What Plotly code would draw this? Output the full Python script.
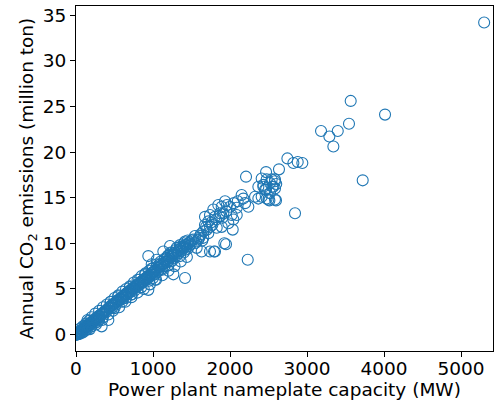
import plotly.graph_objects as go

capacity_mw = [
    # near origin
    2, 5, 8, 10, 12, 15, 18, 20, 25, 30, 30, 35, 40, 45, 50, 50, 55, 60, 60, 65, 70, 75, 80, 80, 85, 90, 90,
    95, 100, 100, 105, 110, 110, 120, 120, 125, 130, 130, 140, 145, 150, 150, 160, 165, 170, 170, 180, 185,
    190, 200, 200, 210, 215, 220, 230, 240, 250, 250, 255, 260, 270, 280, 280, 290, 300, 300, 310, 320, 330,
    333, 340, 350, 350, 360, 370, 380, 390, 400, 420,
    # 400-1000
    410, 430, 440, 450, 450, 460, 470, 480, 490, 500, 500, 510, 520, 530, 540, 550, 550, 560, 570, 580, 590,
    600, 600, 610, 620, 630, 640, 650, 650, 660, 670, 680, 690, 700, 700, 710, 720, 720, 723, 730, 740, 744,
    750, 760, 760, 770, 780, 790, 800, 809, 810, 820, 820, 830, 840, 850, 850, 860, 870, 874, 880, 890, 900,
    900, 910, 920, 930, 939, 939, 940, 950, 950, 960, 970, 980, 980, 983, 990, 1000, 1000,
    # 1000-1500
    1010, 1020, 1026, 1030, 1040, 1048, 1050, 1060, 1070, 1070, 1080, 1091, 1100, 1110, 1120, 1120, 1134,
    1140, 1150, 1150, 1160, 1177, 1180, 1190, 1200, 1200, 1210, 1221, 1230, 1230, 1240, 1250, 1250, 1264,
    1264, 1270, 1280, 1290, 1300, 1307, 1320, 1330, 1340, 1350, 1351, 1360, 1370, 1380, 1394, 1400, 1400,
    1416, 1416, 1420, 1420, 1430, 1440, 1450, 1460, 1470, 1480, 1490, 1500,
    # extra scatter around the main band
    150, 200, 250, 300, 350, 400, 450, 500, 550, 600, 650, 700, 750, 800, 850, 900, 950, 1000, 1050, 1100,
    1150, 1200, 1250, 1300, 1350, 1400, 1450,
    180, 260, 340, 420, 480, 560, 640, 720, 800, 880, 960, 1040, 1120, 1200, 1280, 1360, 1440,
    # 1500-2100
    1520, 1545, 1545, 1560, 1567, 1588, 1600, 1610, 1620, 1632, 1640, 1653, 1653, 1675, 1675, 1690, 1700,
    1718, 1720, 1740, 1740, 1740, 1760, 1770, 1783, 1792, 1805, 1805, 1820, 1827, 1848, 1860, 1870, 1892,
    1892, 1900, 1913, 1926, 1935, 1948, 1950, 1960, 1978, 2000, 2022, 2035, 2043, 2050, 2087, 2087, 2100,
    # 2100-2700
    2151, 2173, 2195, 2208, 2230, 2238, 2325, 2368, 2368, 2411, 2411, 2433, 2433, 2455, 2468, 2468, 2476,
    2476, 2498, 2511, 2519, 2519, 2541, 2550, 2562, 2584, 2584, 2584, 2584, 2597, 2600, 2636,
    # large plants
    2745, 2823, 2879, 2939, 2844, 3182, 3290, 3399, 3342, 3545, 3567, 3723, 4013, 5300,
]

emissions_mt = [
    0.0, 0.02, 0.01, 0.05, 0.0, 0.08, 0.03, 0.1, 0.12, 0.2, 0.05, 0.15, 0.25, 0.3, 0.28, 0.1, 0.35, 0.4, 0.7, 0.3,
    0.45, 0.5, 0.48, 0.2, 0.55, 0.6, 0.9, 0.5, 0.7, 0.3, 0.62, 0.75, 1.0, 0.8, 0.45, 0.7, 0.9, 1.2, 0.95, 0.85,
    1.0, 0.6, 1.05, 0.95, 1.15, 1.5, 1.2, 1.1, 1.3, 1.35, 0.9, 1.25, 1.45, 1.5, 1.4, 1.6, 1.7, 1.3, 1.55, 1.8,
    1.75, 1.9, 1.4, 2.0, 2.05, 1.6, 1.95, 2.2, 2.15, 0.9, 2.3, 2.4, 1.9, 2.35, 2.5, 2.6, 2.45, 2.7, 1.6,
    # 400-1000
    2.8, 3.0, 2.9, 3.1, 3.6, 3.2, 2.95, 3.3, 3.4, 3.35, 2.9, 3.5, 3.3, 3.7, 3.6, 3.8, 4.2, 3.75, 3.9, 4.0, 3.85,
    4.1, 3.6, 4.2, 4.0, 4.3, 4.35, 4.5, 4.0, 4.4, 4.6, 4.7, 4.55, 4.8, 5.2, 4.9, 4.75, 4.4, 4.4, 5.0, 5.1, 5.1,
    5.05, 5.2, 4.8, 5.3, 5.15, 5.4, 5.5, 5.5, 5.35, 5.6, 6.0, 5.7, 5.55, 5.8, 5.2, 5.9, 5.75, 5.8, 6.0, 6.1,
    6.05, 6.6, 6.2, 6.3, 6.15, 4.9, 8.6, 6.4, 6.5, 5.9, 6.35, 6.6, 6.7, 7.2, 7.7, 6.55, 6.8, 6.2,
    # 1000-1500
    6.9, 7.0, 6.0, 6.6, 7.1, 8.2, 6.8, 7.3, 7.0, 7.6, 7.4, 7.7, 7.5, 7.2, 7.7, 7.1, 9.1,
    7.8, 7.5, 8.2, 8.0, 8.4, 7.9, 8.6, 8.1, 7.6, 8.3, 9.7, 8.0, 9.0, 8.5, 8.7, 8.1, 8.9,
    6.6, 8.4, 8.8, 9.0, 8.6, 9.5, 9.1, 8.9, 9.3, 9.8, 8.6, 9.4, 9.2, 9.6, 9.7, 9.5, 9.0,
    10.2, 6.2, 9.8, 9.3, 9.6, 9.9, 9.4, 10.0, 9.7, 10.1, 9.9, 10.3,
    # extra scatter around the main band
    1.6, 1.9, 2.3, 2.6, 3.0, 3.3, 3.6, 4.0, 4.3, 4.7, 5.0, 5.3, 5.7, 6.0, 6.4, 6.7, 7.0, 7.3, 7.7, 8.0,
    8.3, 8.7, 9.0, 9.3, 9.6, 10.0, 10.3,
    0.6, 1.1, 1.6, 2.2, 2.6, 3.0, 3.6, 4.1, 4.6, 5.0, 5.5, 6.0, 6.5, 7.0, 7.5, 8.0, 8.5,
    # 1500-2100
    10.4, 10.0, 10.8, 10.2, 9.5, 10.4, 10.6, 10.8, 11.0, 9.1, 10.3, 11.3, 10.6, 12.0, 12.9, 11.8, 11.5,
    11.1, 12.4, 11.8, 13.1, 9.1, 12.3, 12.0, 13.7, 9.1, 12.9, 9.1, 12.6, 11.7, 14.2, 13.0, 13.3, 14.0,
    11.8, 12.8, 13.3, 10.0, 14.6, 9.9, 13.5, 14.2, 12.2, 14.0, 13.1, 11.5, 12.6, 14.4, 13.9, 13.1, 14.6,
    # 2100-2700
    15.3, 14.9, 14.4, 17.3, 8.2, 14.0, 15.1, 14.9, 16.2, 17.1, 15.1, 16.4, 16.2, 15.9, 17.8, 15.9, 14.9,
    17.0, 14.8, 14.7, 16.6, 15.5, 17.0, 16.2, 16.2, 16.8, 16.0, 17.0, 14.8, 14.7, 16.5, 18.1,
    # large plants
    19.3, 18.8, 18.9, 18.8, 13.3, 22.3, 21.7, 22.3, 20.6, 23.1, 25.6, 16.9, 24.1, 34.2,
]

fig = go.Figure(
    go.Scatter(
        x=capacity_mw,
        y=emissions_mt,
        mode="markers",
        marker=dict(symbol="circle-open", size=11, color="#1f77b4", line=dict(width=1.1, color="#1f77b4")),
        showlegend=False,
    )
)

font = dict(family="DejaVu Sans", size=18.5, color="black")
axis_common = dict(
    showline=True, linecolor="black", linewidth=1, mirror=True,
    ticks="outside", ticklen=5, tickcolor="black", tickwidth=1,
    showgrid=False, zeroline=False, tickfont=font,
)

fig.update_layout(
    width=494, height=404,
    margin=dict(l=76, r=1, t=6, b=53),
    plot_bgcolor="white", paper_bgcolor="white",
    font=font,
    xaxis=dict(range=[0, 5415], dtick=1000, tick0=0, ticklabelstandoff=-4,
               title=dict(text="Power plant nameplate capacity (MW)", font=font, standoff=4),
               **axis_common),
    yaxis=dict(range=[-1.8, 36.0], dtick=5, tick0=0,
               title=dict(text="Annual CO<sub>2</sub> emissions (million ton)", font=font, standoff=4),
               **axis_common),
)

fig.write_html("out.html")
